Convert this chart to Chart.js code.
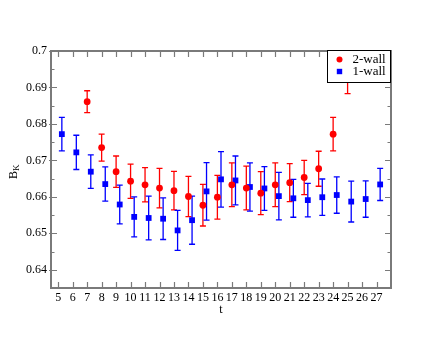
<!DOCTYPE html>
<html><head><meta charset="utf-8">
<script src="https://cdn.jsdelivr.net/npm/chart.js@4/dist/chart.umd.min.js"></script>
<style>html,body{margin:0;padding:0;background:#fff}</style>
</head><body>
<canvas id="c" width="440" height="340"></canvas>
<script>
// ---- data ----
const tRed   = [7,8,9,10,11,12,13,14,15,16,17,18,19,20,21,22,23,24,25];
const bkRed  = [0.6861,0.6735,0.6669,0.6643,0.6633,0.6624,0.6617,0.6601,0.6577,0.6599,0.6633,0.6624,0.6610,0.6633,0.6639,0.6653,0.6677,0.6772,0.6928];
const errRed = [0.0030,0.0037,0.0043,0.0047,0.0047,0.0054,0.0053,0.0055,0.0057,0.0060,0.0060,0.0060,0.0059,0.0060,0.0052,0.0047,0.0048,0.0046,0.0045];

const tBlue   = [5,6,7,8,9,10,11,12,13,14,15,16,17,18,19,20,21,22,23,24,25,26,27];
const bkBlue  = [0.6772,0.6722,0.6669,0.6635,0.6579,0.6545,0.6542,0.6540,0.6508,0.6536,0.6615,0.6648,0.6645,0.6627,0.6623,0.6602,0.6596,0.6591,0.6599,0.6605,0.6587,0.6594,0.6634];
const errBlue = [0.0046,0.0047,0.0046,0.0047,0.0053,0.0055,0.0060,0.0057,0.0055,0.0066,0.0079,0.0076,0.0067,0.0066,0.0060,0.0065,0.0052,0.0046,0.0050,0.0050,0.0056,0.0050,0.0044];
const blueShift = 0.25; // 1-wall points are plotted slightly right of the integer t

const xTicks = [5,6,7,8,9,10,11,12,13,14,15,16,17,18,19,20,21,22,23,24,25,26,27];
const yTicks = [0.64,0.65,0.66,0.67,0.68,0.69,0.70];
const yMinorTicks = [0.645,0.655,0.665,0.675,0.685,0.695];
const labels = ['2-wall','1-wall'];
const colors = ['#ff0000','#0000ff'];

const SERIF = "'Liberation Serif','DejaVu Serif',serif";
const FRAME = '#7a7a7a';

const decor = {
  id: 'decor',
  beforeDatasetsDraw(chart) {
    const ctx = chart.ctx, xs = chart.scales.x, ys = chart.scales.y;
    chart.data.datasets.forEach((ds) => {
      ctx.save();
      ctx.strokeStyle = ds.borderColor;
      ctx.lineWidth = 1.3;
      ds.data.forEach((p, i) => {
        const e = ds.errors[i];
        const px = xs.getPixelForValue(p.x);
        const top = ys.getPixelForValue(p.y + e);
        const bot = ys.getPixelForValue(p.y - e);
        ctx.beginPath();
        ctx.moveTo(px, top); ctx.lineTo(px, bot);
        ctx.moveTo(px - 3, top); ctx.lineTo(px + 3, top);
        ctx.moveTo(px - 3, bot); ctx.lineTo(px + 3, bot);
        ctx.stroke();
      });
      ctx.restore();
    });
  },
  afterDraw(chart) {
    const ctx = chart.ctx, xs = chart.scales.x, ys = chart.scales.y;
    const a = chart.chartArea;
    ctx.save();
    // ticks
    ctx.strokeStyle = FRAME;
    ctx.lineWidth = 1.2;
    ctx.beginPath();
    xTicks.forEach(v => {
      const px = Math.round(xs.getPixelForValue(v)) + 0.5;
      ctx.moveTo(px, a.bottom); ctx.lineTo(px, a.bottom - 6);
      ctx.moveTo(px, a.top); ctx.lineTo(px, a.top + 6);
    });
    yTicks.forEach(v => {
      const py = Math.round(ys.getPixelForValue(v)) + 0.5;
      ctx.moveTo(a.left - 2, py); ctx.lineTo(a.left + 6, py);
      ctx.moveTo(a.right, py); ctx.lineTo(a.right - 6, py);
    });
    yMinorTicks.forEach(v => {
      const py = Math.round(ys.getPixelForValue(v)) + 0.5;
      ctx.moveTo(a.left, py); ctx.lineTo(a.left + 3.5, py);
      ctx.moveTo(a.right, py); ctx.lineTo(a.right - 3.5, py);
    });
    ctx.stroke();
    // frame
    ctx.lineWidth = 2;
    ctx.strokeRect(a.left, a.top, a.right - a.left, a.bottom - a.top);

    // y-axis title B_K
    ctx.fillStyle = '#000';
    ctx.translate(14, 173);
    ctx.rotate(-Math.PI / 2);
    ctx.textBaseline = 'middle';
    ctx.textAlign = 'left';
    ctx.font = '12px ' + SERIF;
    const bw = ctx.measureText('B').width;
    ctx.fillText('B', -6, 0);
    ctx.font = '9px ' + SERIF;
    ctx.fillText('K', -6 + bw, 3);
    ctx.setTransform(1, 0, 0, 1, 0, 0);

    // legend
    const lx = 327.5, ly = 50.5, lw = 63, lh = 32;
    ctx.fillStyle = '#fff';
    ctx.fillRect(lx, ly, lw, lh);
    ctx.strokeStyle = '#000';
    ctx.lineWidth = 1;
    ctx.strokeRect(lx, ly, lw, lh);
    ctx.font = '13px ' + SERIF;
    ctx.textBaseline = 'middle';
    ctx.textAlign = 'left';
    chart.data.datasets.forEach((ds, i) => {
      const cy = ly + 9 + i * 12;
      ctx.fillStyle = ds.backgroundColor;
      ctx.beginPath();
      if (ds.pointStyle === 'circle') {
        ctx.arc(lx + 12, cy, 3, 0, Math.PI * 2);
      } else {
        ctx.rect(lx + 12 - 2.7, cy - 2.7, 5.4, 5.4);
      }
      ctx.fill();
      ctx.fillStyle = '#000';
      ctx.fillText(ds.label, lx + 25, cy + 0.5);
    });
    ctx.restore();
  }
};

new Chart(document.getElementById('c'), {
  type: 'scatter',
  data: {
    datasets: [
      {
        label: labels[0],
        data: tRed.map((t, i) => ({ x: t, y: bkRed[i] })),
        errors: errRed,
        pointStyle: 'circle',
        pointRadius: 3.4,
        pointHoverRadius: 3.4,
        backgroundColor: colors[0],
        borderColor: colors[0],
        borderWidth: 0
      },
      {
        label: labels[1],
        data: tBlue.map((t, i) => ({ x: t + blueShift, y: bkBlue[i] })),
        errors: errBlue,
        pointStyle: 'rect',
        pointRadius: 4.1,
        pointHoverRadius: 4.1,
        backgroundColor: colors[1],
        borderColor: colors[1],
        borderWidth: 0
      }
    ]
  },
  options: {
    responsive: false,
    animation: false,
    events: [],
    layout: { padding: { left: 0, top: 51, right: 49, bottom: 0 } },
    plugins: { legend: { display: false }, tooltip: { enabled: false } },
    scales: {
      x: {
        type: 'linear',
        min: 4.5, max: 28,
        afterBuildTicks: s => { s.ticks = xTicks.map(v => ({ value: v })); },
        afterFit: s => { s.height = 52; },
        grid: { display: false, drawTicks: false },
        border: { display: false },
        ticks: { padding: 3, color: '#000', font: { family: SERIF, size: 12 }, maxRotation: 0, autoSkip: false },
        title: { display: true, text: 't', color: '#000', font: { family: SERIF, size: 12 }, padding: { top: 0, bottom: 23 } }
      },
      y: {
        type: 'linear',
        min: 0.635, max: 0.70,
        afterBuildTicks: s => { s.ticks = yTicks.map(v => ({ value: v })); },
        afterFit: s => { s.width = 51; },
        grid: { display: false, drawTicks: false },
        border: { display: false },
        ticks: { padding: 4, color: '#000', font: { family: SERIF, size: 12 },
                 callback: v => String(Number(v.toFixed(3))) }
      }
    }
  },
  plugins: [decor]
});
</script>
</body></html>
